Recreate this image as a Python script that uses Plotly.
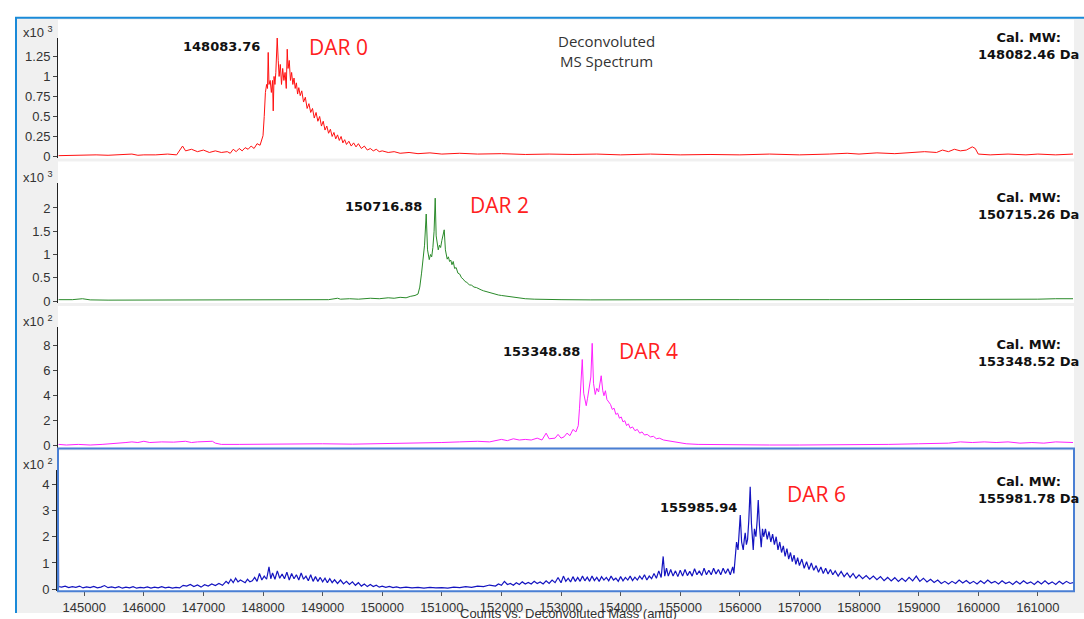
import plotly.graph_objects as go

# ---------------- data ----------------
# Panel 1: DAR 0 (counts x10^3)
mass_dar0 = [144570, 144800, 145000, 145200, 145400, 145600, 145800, 145900, 146000, 146200, 146400, 146550,
             146600, 146650, 146700, 146800, 146900, 147000, 147100, 147200, 147300, 147400, 147450, 147500,
             147550, 147600, 147650, 147700, 147750, 147800, 147850, 147900, 147950, 147980, 148000, 148020,
             148040, 148060, 148075, 148087, 148100, 148120, 148140, 148160, 148171, 148185, 148200, 148215,
             148238, 148255, 148270, 148290, 148310, 148330, 148350, 148370, 148390, 148406, 148420, 148440,
             148460, 148480, 148500, 148520, 148540, 148560, 148580, 148600, 148624, 148650, 148680, 148710,
             148740, 148770, 148800, 148830, 148860, 148890, 148920, 148950, 148980, 149010, 149040, 149070,
             149100, 149130, 149160, 149190, 149220, 149250, 149280, 149310, 149340, 149370, 149400, 149440,
             149480, 149520, 149560, 149600, 149650, 149700, 149750, 149800, 149850, 149900, 149950, 150000,
             150100, 150200, 150300, 150450, 150600, 150800, 151000, 151300, 151600, 152000, 152400, 152800,
             153200, 153600, 154000, 154500, 155000, 155500, 156000, 156500, 157000, 157500, 157800, 158000,
             158300, 158600, 158900, 159100, 159300, 159400, 159500, 159600, 159700, 159800, 159900, 159950,
             160000, 160200, 160500, 160800, 161000, 161300, 161590]
counts_dar0 = [0.01, 0.015, 0.01, 0.02, 0.015, 0.02, 0.03, 0.015, 0.02, 0.02, 0.03, 0.02,
               0.08, 0.13, 0.07, 0.09, 0.06, 0.08, 0.05, 0.07, 0.05, 0.06, 0.04, 0.09,
               0.06, 0.10, 0.07, 0.11, 0.09, 0.13, 0.10, 0.16, 0.14, 0.20, 0.26, 0.50,
               0.80, 0.90, 0.85, 1.30, 0.90, 0.95, 0.80, 0.95, 0.57, 1.00, 0.90, 1.05,
               1.48, 1.20, 1.00, 1.15, 0.90, 1.10, 0.95, 1.05, 0.85, 1.34, 1.10, 1.20,
               0.95, 1.05, 0.90, 0.98, 0.85, 0.92, 0.78, 0.86, 0.76, 0.82, 0.68, 0.74,
               0.60, 0.66, 0.55, 0.60, 0.48, 0.55, 0.44, 0.50, 0.38, 0.44, 0.33, 0.38,
               0.29, 0.34, 0.25, 0.30, 0.22, 0.27, 0.20, 0.25, 0.17, 0.21, 0.15, 0.19,
               0.13, 0.17, 0.12, 0.16, 0.10, 0.13, 0.08, 0.10, 0.07, 0.09, 0.06, 0.07,
               0.05, 0.06, 0.04, 0.05, 0.035, 0.045, 0.03, 0.04, 0.03, 0.035, 0.025, 0.03,
               0.025, 0.03, 0.02, 0.03, 0.02, 0.025, 0.02, 0.03, 0.02, 0.03, 0.04, 0.03,
               0.045, 0.035, 0.05, 0.06, 0.05, 0.08, 0.06, 0.09, 0.07, 0.08, 0.12, 0.10,
               0.03, 0.02, 0.03, 0.02, 0.03, 0.02, 0.03]

# Panel 2: DAR 2 (counts x10^3)
mass_dar2 = [144570, 144800, 144970, 145100, 145400, 145800, 146200, 146600, 147000, 147500, 148000, 148500,
             148900, 149100, 149250, 149300, 149450, 149600, 149800, 149950, 150100, 150200, 150300, 150400,
             150470, 150550, 150600, 150630, 150660, 150690, 150710, 150738, 150760, 150789, 150810, 150830,
             150850, 150870, 150889, 150905, 150920, 150940, 150960, 150980, 151000, 151020, 151040, 151060,
             151090, 151110, 151130, 151150, 151170, 151191, 151215, 151240, 151270, 151300, 151330, 151360,
             151390, 151420, 151460, 151500, 151540, 151580, 151620, 151660, 151700, 151750, 151800, 151850,
             151900, 151950, 152000, 152100, 152200, 152300, 152400, 152550, 152700, 153000, 153500, 154000,
             154500, 155000, 155500, 156000, 156500, 157000, 157500, 158000, 158500, 159000, 159500, 160000,
             160500, 161000, 161300, 161500, 161590]
counts_dar2 = [0.03, 0.03, 0.05, 0.025, 0.02, 0.02, 0.015, 0.02, 0.015, 0.02, 0.02, 0.02,
               0.025, 0.03, 0.06, 0.04, 0.05, 0.04, 0.06, 0.05, 0.07, 0.06, 0.08, 0.07,
               0.10, 0.12, 0.15, 0.30, 0.60, 0.90, 1.20, 1.87, 1.10, 0.89, 1.00, 0.95,
               1.15, 1.50, 2.21, 1.40, 1.20, 1.10, 1.20, 1.15, 1.30, 1.40, 1.53, 1.10,
               0.90, 0.95, 0.85, 0.88, 0.78, 0.85, 0.70, 0.72, 0.60, 0.58, 0.50, 0.47,
               0.42, 0.40, 0.35, 0.34, 0.30, 0.29, 0.26, 0.24, 0.22, 0.20, 0.18, 0.16,
               0.14, 0.13, 0.12, 0.10, 0.08, 0.06, 0.05, 0.04, 0.035, 0.03, 0.025, 0.03,
               0.025, 0.03, 0.03, 0.03, 0.025, 0.03, 0.03, 0.03, 0.03, 0.035, 0.03, 0.035,
               0.035, 0.04, 0.05, 0.06, 0.05]

# Panel 3: DAR 4 (counts x10^2)
mass_dar4 = [144570, 144700, 144900, 145100, 145300, 145500, 145700, 145800, 145900, 146000, 146100, 146300,
             146500, 146700, 146800, 146900, 147000, 147150, 147200, 147300, 147600, 148000, 148500, 149000,
             149500, 150000, 150500, 151000, 151300, 151600, 151800, 151930, 152000, 152100, 152200, 152300,
             152400, 152500, 152600, 152680, 152750, 152800, 152900, 152950, 153000, 153050, 153100, 153150,
             153200, 153250, 153289, 153310, 153330, 153356, 153380, 153400, 153423, 153445, 153470, 153500,
             153523, 153545, 153574, 153600, 153630, 153655, 153674, 153700, 153720, 153745, 153770, 153800,
             153830, 153860, 153890, 153920, 153950, 153980, 154010, 154040, 154070, 154100, 154130, 154160,
             154200, 154240, 154280, 154320, 154360, 154400, 154446, 154500, 154550, 154600, 154650, 154720,
             154780, 154850, 154950, 155100, 155300, 155600, 156000, 156500, 157000, 157500, 158000, 158500,
             159000, 159500, 159700, 159900, 160100, 160300, 160500, 160700, 160900, 161100, 161300, 161590]
counts_dar4 = [0.10, 0.05, 0.10, 0.05, 0.10, 0.15, 0.25, 0.30, 0.25, 0.35, 0.25, 0.30,
               0.28, 0.35, 0.25, 0.30, 0.32, 0.35, 0.20, 0.10, 0.10, 0.12, 0.10, 0.15,
               0.12, 0.15, 0.20, 0.25, 0.30, 0.35, 0.30, 0.45, 0.50, 0.40, 0.55, 0.45,
               0.50, 0.45, 0.60, 0.45, 1.00, 0.55, 0.60, 0.90, 0.60, 0.70, 1.00, 0.80,
               1.30, 1.10, 1.60, 3.00, 4.50, 6.90, 4.20, 3.60, 3.20, 3.80, 4.50, 5.50,
               8.20, 5.00, 4.10, 4.60, 4.30, 5.00, 5.60, 4.40, 4.00, 4.40, 3.70, 3.50,
               3.30, 2.90, 3.00, 2.50, 2.60, 2.20, 2.30, 1.90, 2.00, 1.60, 1.75, 1.40,
               1.50, 1.20, 1.30, 1.00, 1.10, 0.85, 0.90, 0.70, 0.75, 0.55, 0.60, 0.45,
               0.40, 0.30, 0.25, 0.15, 0.10, 0.08, 0.05, 0.05, 0.05, 0.05, 0.08, 0.10,
               0.15, 0.20, 0.30, 0.25, 0.30, 0.25, 0.30, 0.20, 0.25, 0.20, 0.30, 0.25]

# Panel 4: DAR 6 (counts x10^2)
mass_dar6 = [144563, 144570, 144620, 144680, 144740, 144800, 144860, 144920, 144980, 145040, 145100, 145160,
             145220, 145280, 145340, 145400, 145460, 145520, 145580, 145640, 145700, 145760, 145820, 145880,
             145940, 146000, 146060, 146120, 146180, 146240, 146300, 146360, 146420, 146480, 146540, 146600,
             146660, 146720, 146780, 146840, 146900, 146960, 147020, 147080, 147140, 147200, 147260, 147320,
             147380, 147420, 147460, 147500, 147540, 147580, 147620, 147660, 147700, 147740, 147780, 147820,
             147860, 147900, 147940, 147980, 148020, 148060, 148100, 148130, 148160, 148200, 148240, 148280,
             148320, 148360, 148400, 148440, 148480, 148520, 148560, 148600, 148640, 148680, 148720, 148760,
             148800, 148840, 148880, 148920, 148960, 149000, 149040, 149080, 149120, 149160, 149200, 149250,
             149300, 149350, 149400, 149450, 149500, 149550, 149600, 149650, 149700, 149750, 149800, 149850,
             149900, 149950, 150000, 150060, 150120, 150180, 150240, 150300, 150400, 150500, 150600, 150700,
             150800, 150900, 151000, 151100, 151200, 151300, 151400, 151500, 151600, 151700, 151800, 151900,
             151950, 152000, 152050, 152100, 152150, 152200, 152250, 152300, 152350, 152400, 152450, 152500,
             152550, 152600, 152650, 152700, 152750, 152800, 152850, 152900, 152950, 153000, 153040, 153080,
             153120, 153160, 153200, 153240, 153280, 153320, 153360, 153400, 153440, 153480, 153520, 153560,
             153600, 153640, 153680, 153720, 153760, 153800, 153840, 153880, 153920, 153960, 154000, 154040,
             154080, 154120, 154160, 154200, 154240, 154280, 154320, 154360, 154400, 154440, 154480, 154520,
             154560, 154600, 154640, 154680, 154714, 154740, 154770, 154800, 154840, 154880, 154920, 154960,
             155000, 155040, 155080, 155120, 155160, 155200, 155240, 155280, 155320, 155360, 155400, 155440,
             155480, 155520, 155560, 155600, 155640, 155680, 155720, 155760, 155800, 155840, 155880, 155900,
             155923, 155945, 155970, 155990, 156007, 156030, 156057, 156075, 156090, 156110, 156130, 156150,
             156174, 156195, 156225, 156245, 156270, 156290, 156309, 156330, 156359, 156380, 156400, 156430,
             156460, 156490, 156520, 156550, 156580, 156610, 156640, 156670, 156700, 156730, 156760, 156790,
             156820, 156850, 156880, 156910, 156940, 156970, 157000, 157040, 157080, 157120, 157160, 157200,
             157240, 157280, 157320, 157360, 157400, 157440, 157480, 157520, 157560, 157600, 157650, 157700,
             157750, 157800, 157850, 157900, 157950, 158000, 158060, 158120, 158180, 158240, 158300, 158360,
             158420, 158480, 158540, 158600, 158660, 158720, 158780, 158840, 158900, 158960, 159020, 159080,
             159140, 159200, 159260, 159320, 159380, 159440, 159500, 159560, 159620, 159680, 159740, 159800,
             159860, 159920, 159980, 160040, 160100, 160160, 160220, 160280, 160340, 160400, 160460, 160520,
             160580, 160640, 160700, 160760, 160820, 160880, 160940, 161000, 161060, 161120, 161180, 161240,
             161300, 161360, 161420, 161480, 161540, 161590]
counts_dar6 = [4.50, 0.10, 0.08, 0.12, 0.06, 0.10, 0.07, 0.12, 0.05, 0.09, 0.06, 0.11,
               0.05, 0.08, 0.14, 0.06, 0.09, 0.05, 0.10, 0.04, 0.08, 0.05, 0.10, 0.04,
               0.07, 0.05, 0.09, 0.04, 0.08, 0.05, 0.10, 0.05, 0.08, 0.04, 0.07, 0.05,
               0.15, 0.12, 0.18, 0.10, 0.16, 0.08, 0.17, 0.12, 0.20, 0.14, 0.22, 0.15,
               0.30, 0.22, 0.38, 0.25, 0.42, 0.28, 0.35, 0.30, 0.25, 0.38, 0.28, 0.32,
               0.45, 0.30, 0.60, 0.35, 0.50, 0.38, 0.85, 0.40, 0.62, 0.38, 0.70, 0.42,
               0.58, 0.40, 0.65, 0.35, 0.60, 0.40, 0.55, 0.35, 0.62, 0.38, 0.50, 0.32,
               0.55, 0.30, 0.48, 0.30, 0.45, 0.28, 0.42, 0.25, 0.40, 0.25, 0.36, 0.22,
               0.35, 0.20, 0.30, 0.18, 0.28, 0.15, 0.25, 0.12, 0.20, 0.10, 0.18, 0.10,
               0.15, 0.08, 0.12, 0.07, 0.11, 0.06, 0.09, 0.05, 0.08, 0.05, 0.07, 0.04,
               0.07, 0.05, 0.06, 0.04, 0.08, 0.06, 0.10, 0.07, 0.12, 0.10, 0.16, 0.12,
               0.20, 0.15, 0.30, 0.18, 0.22, 0.15, 0.25, 0.18, 0.28, 0.20, 0.26, 0.20,
               0.30, 0.22, 0.28, 0.20, 0.32, 0.22, 0.35, 0.25, 0.45, 0.25, 0.50, 0.30,
               0.42, 0.28, 0.48, 0.30, 0.45, 0.30, 0.50, 0.32, 0.46, 0.30, 0.50, 0.33,
               0.45, 0.30, 0.48, 0.35, 0.45, 0.32, 0.50, 0.35, 0.42, 0.30, 0.48, 0.32,
               0.45, 0.35, 0.50, 0.33, 0.46, 0.35, 0.50, 0.38, 0.55, 0.35, 0.50, 0.40,
               0.60, 0.42, 0.70, 0.45, 1.25, 0.50, 0.80, 0.50, 0.75, 0.50, 0.70, 0.48,
               0.72, 0.50, 0.75, 0.52, 0.68, 0.50, 0.78, 0.55, 0.70, 0.52, 0.80, 0.55,
               0.72, 0.55, 0.80, 0.58, 0.75, 0.55, 0.80, 0.60, 0.78, 0.55, 0.85, 0.60,
               1.30, 1.80, 1.50, 2.20, 2.83, 1.80, 1.50, 1.90, 2.15, 1.70, 1.90, 2.60,
               3.90, 2.50, 1.50, 2.30, 2.00, 2.60, 3.40, 2.40, 1.60, 2.30, 2.00, 2.30,
               1.90, 2.20, 1.80, 2.10, 1.70, 2.00, 1.50, 1.80, 1.40, 1.65, 1.25, 1.55,
               1.15, 1.40, 1.05, 1.30, 0.95, 1.20, 0.90, 1.15, 0.80, 1.05, 0.75, 1.00,
               0.72, 0.90, 0.65, 0.85, 0.60, 0.80, 0.58, 0.75, 0.55, 0.70, 0.50, 0.68,
               0.48, 0.62, 0.45, 0.60, 0.42, 0.55, 0.40, 0.52, 0.38, 0.50, 0.36, 0.48,
               0.33, 0.45, 0.32, 0.44, 0.30, 0.42, 0.30, 0.45, 0.32, 0.50, 0.30, 0.42,
               0.28, 0.38, 0.26, 0.35, 0.22, 0.30, 0.20, 0.30, 0.22, 0.35, 0.24, 0.33,
               0.22, 0.30, 0.20, 0.32, 0.22, 0.35, 0.24, 0.30, 0.20, 0.32, 0.22, 0.28,
               0.18, 0.30, 0.20, 0.32, 0.22, 0.28, 0.18, 0.30, 0.20, 0.32, 0.20, 0.28,
               0.18, 0.30, 0.20, 0.30, 0.22, 0.25]

x_ticks = [145000, 146000, 147000, 148000, 149000, 150000, 151000, 152000,
           153000, 154000, 155000, 156000, 157000, 158000, 159000, 160000, 161000]
x_ticktext = [str(v) for v in x_ticks]

panel_labels = ["DAR 0", "DAR 2", "DAR 4", "DAR 6"]
peak_labels = ["148083.76", "150716.88", "153348.88", "155985.94"]
cal_mw = ["148082.46 Da", "150715.26 Da", "153348.52 Da", "155981.78 Da"]
exponents = ["3", "3", "2", "2"]
y_ticks = [[0, 0.25, 0.5, 0.75, 1, 1.25], [0, 0.5, 1, 1.5, 2], [0, 2, 4, 6, 8], [0, 1, 2, 3, 4]]
y_ticktext = [["0", "0.25", "0.5", "0.75", "1", "1.25"], ["0", "0.5", "1", "1.5", "2"],
              ["0", "2", "4", "6", "8"], ["0", "1", "2", "3", "4"]]

# ---------------- layout helpers ----------------
W, H = 1084, 619
def px(x):
    return x / W
def py(y):
    return 1 - y / H

series = [
    (mass_dar0, counts_dar0, "#ff1010", 1.0),
    (mass_dar2, counts_dar2, "#2a8a2a", 1.0),
    (mass_dar4, counts_dar4, "#ff20ff", 1.0),
    (mass_dar6, counts_dar6, "#1414c0", 1.2),
]
# axis pixel geometry: (top of axis, bottom of panel, pixels per unit, zero pixel)
geom = [(38, 160, 80.8, 158), (185, 306, 47.0, 304), (330, 452, 12.6, 450), (475, 597, 26.5, 595)]
white_bg = [(20, 160), (163, 306), (309, 452), (455, 597)]
text_y = [(47, 47, 45, 47, 69), (209, 207, 200, 216, 0), (355, 354, 347, 365, 0), (512, 499, 486, 504, 0)]
peak_x = [262, 424, 582, 739]
dar_x = [338, 499, 648, 816]

XL, XR = 58, 1073
xrange_ = [144560, 161590]

fig = go.Figure()
shapes = []
annotations = []
# gray frame background
shapes.append(dict(type="rect", xref="paper", yref="paper", x0=px(16), x1=1, y0=0, y1=py(18),
                   fillcolor="#f0f0f0", line=dict(width=0), layer="below"))

for i, (mx, cy, col, lw) in enumerate(series):
    n = i + 1
    xa = "x" if n == 1 else f"x{n}"
    ya = "y" if n == 1 else f"y{n}"
    fig.add_trace(go.Scatter(x=mx, y=cy, mode="lines", line=dict(color=col, width=lw),
                             xaxis=xa, yaxis=ya, showlegend=False, hoverinfo="skip"))
    top, bot, ppu, zero = geom[i]
    ymin = -(bot - zero) / ppu
    ymax = (zero - top) / ppu
    is_bottom = (n == 4)
    fig.update_layout(**{
        ("xaxis" if n == 1 else f"xaxis{n}"): dict(
            domain=[px(XL), px(XR)], range=xrange_, anchor=ya,
            matches=None if n == 1 else "x",
            showgrid=False, zeroline=False, showline=False,
            showticklabels=is_bottom, ticks="outside" if is_bottom else "",
            tickvals=x_ticks, ticktext=x_ticktext, ticklen=4, tickcolor="#555",
            tickfont=dict(family="Liberation Sans, Arial", size=13, color="#333"),
        ),
        ("yaxis" if n == 1 else f"yaxis{n}"): dict(
            domain=[py(bot), py(top)], range=[ymin, ymax], anchor=xa,
            showgrid=False, zeroline=False, showline=True,
            linecolor="#222", linewidth=2 if is_bottom else 1,
            ticks="outside", ticklen=4, tickcolor="#444",
            tickvals=y_ticks[i], ticktext=y_ticktext[i],
            tickfont=dict(family="Liberation Sans, Arial", size=13, color="#333"),
        ),
    })
    wt, wb = white_bg[i]
    shapes.append(dict(type="rect", xref="paper", yref="paper", x0=px(XL), x1=px(XR + 1),
                       y0=py(wb), y1=py(wt), fillcolor="white", line=dict(width=0), layer="below"))
    # exponent label
    annotations.append(dict(xref="paper", yref="paper", x=px(21), y=py(top - 6), xanchor="left",
                            yanchor="middle", showarrow=False,
                            text=f"x10 <sup>{exponents[i]}</sup>",
                            font=dict(family="Liberation Sans, Arial", size=13, color="#333")))
    py_peak, py_dar, py_cal1, py_cal2, _ = text_y[i]
    annotations.append(dict(xref="paper", yref="paper", x=px(peak_x[i]), y=py(py_peak), xanchor="right",
                            yanchor="middle", showarrow=False, text=f"<b>{peak_labels[i]}</b>",
                            font=dict(family="DejaVu Sans", size=13, color="#111")))
    annotations.append(dict(xref="paper", yref="paper", x=px(dar_x[i]), y=py(py_dar), xanchor="center",
                            yanchor="middle", showarrow=False, text=panel_labels[i],
                            font=dict(family="Open Sans", size=21, color="#ff2020")))
    annotations.append(dict(xref="paper", yref="paper", x=px(1028), y=py((py_cal1 + py_cal2) / 2),
                            xanchor="center", yanchor="middle", showarrow=False, align="center",
                            text=f"<b>Cal. MW:</b><br><b>{cal_mw[i]}</b>",
                            font=dict(family="DejaVu Sans", size=13, color="#111")))

# selected-panel blue border
shapes.append(dict(type="rect", xref="paper", yref="paper", x0=px(XL), x1=px(XR + 1), y0=py(597), y1=py(453),
                   fillcolor="rgba(0,0,0,0)", line=dict(color="#4a7fd4", width=2), layer="above"))
# outer frame lines
shapes.append(dict(type="line", xref="paper", yref="paper", x0=px(15), x1=1, y0=py(18), y1=py(18),
                   line=dict(color="#1a8ad8", width=2)))
shapes.append(dict(type="line", xref="paper", yref="paper", x0=px(16), x1=px(16), y0=0, y1=py(18),
                   line=dict(color="#1a8ad8", width=2)))

annotations.append(dict(xref="paper", yref="paper", x=px(606), y=py(52), xanchor="center", yanchor="middle",
                        showarrow=False, align="center", text="Deconvoluted<br>MS Spectrum",
                        font=dict(family="Open Sans", size=15, color="#333")))
# axis title, partially cut off by the bottom edge as in the original screenshot
annotations.append(dict(xref="paper", yref="paper", x=px(568), y=py(620), xanchor="center", yanchor="middle",
                        showarrow=False, text="Counts vs. Deconvoluted Mass (amu)",
                        font=dict(family="Liberation Sans, Arial", size=13, color="#333")))

fig.update_layout(width=W, height=H, margin=dict(l=0, r=0, t=0, b=0),
                  paper_bgcolor="white", plot_bgcolor="rgba(0,0,0,0)",
                  shapes=shapes, annotations=annotations, showlegend=False)

fig.write_html("out.html")
